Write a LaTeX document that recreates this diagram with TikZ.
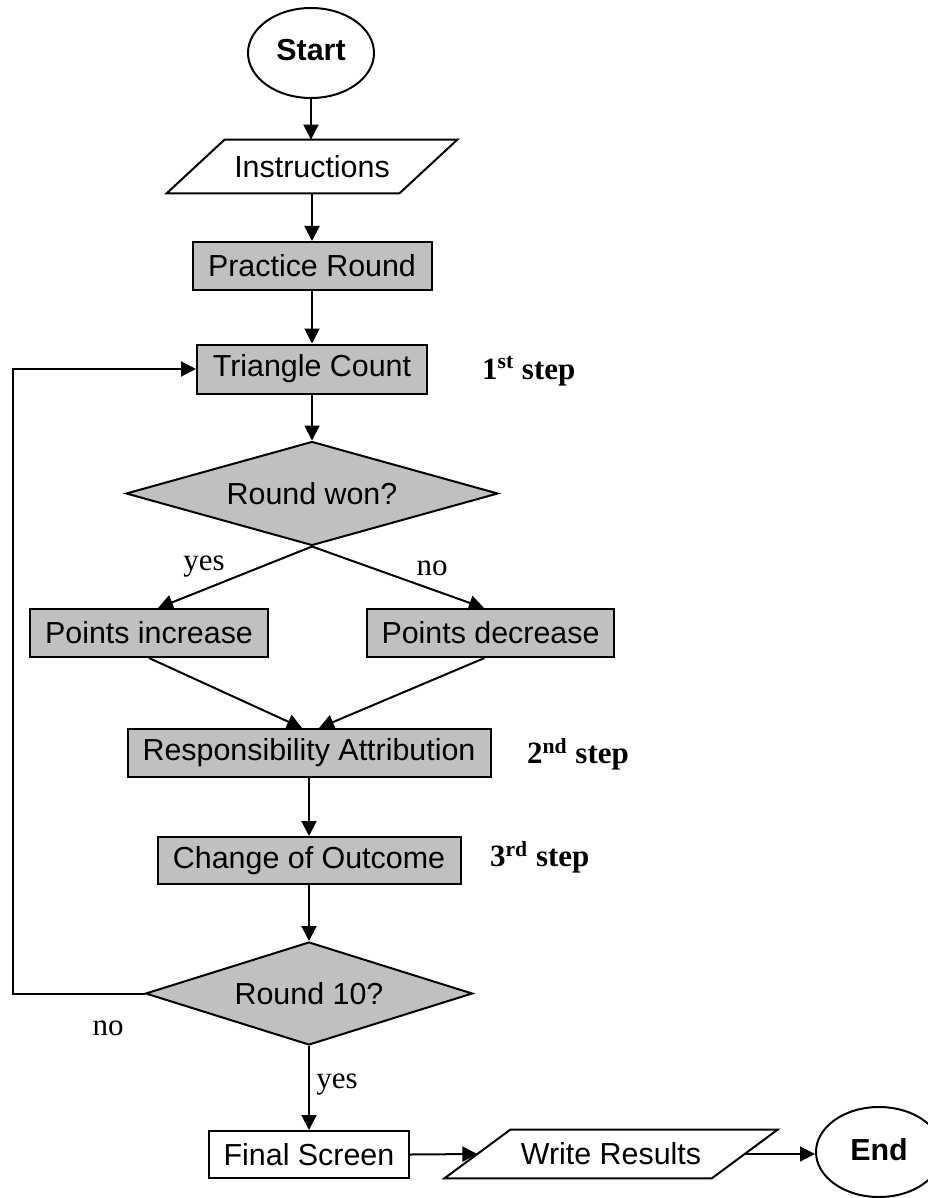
\documentclass[tikz,border=0pt]{standalone}
\usepackage{fontspec}
\setmainfont{Liberation Serif}
\setsansfont{Liberation Sans}
\usetikzlibrary{shapes.geometric,arrows.meta}
\definecolor{boxgray}{RGB}{192,192,192}
\tikzset{
  base/.style={draw=black, line width=1pt, font=\sffamily\fontsize{15.2}{18}\selectfont, inner sep=0pt},
  procbox/.style={base, rectangle, fill=boxgray},
  plainbox/.style={base, rectangle, fill=white},
  decision/.style={base, diamond, fill=boxgray},
  terminal/.style={base, ellipse, fill=white, font=\sffamily\bfseries\fontsize{15.2}{18}\selectfont, minimum width=63pt, minimum height=45pt},
  iotext/.style={rectangle, inner sep=0pt, font=\sffamily\fontsize{15.2}{18}\selectfont},
  ioshape/.style={line width=1pt, line join=miter},
  arrowline/.style={line width=1pt, -{Triangle[length=7.5pt,width=7.5pt]}},
  lbl/.style={font=\fontsize{15.5}{18}\selectfont},
  steplbl/.style={font=\bfseries\fontsize{15.5}{18}\selectfont, anchor=west}
}
\begin{document}
\begin{tikzpicture}[x=0.5pt,y=-0.5pt]
\useasboundingbox (0,0) rectangle (927,1198);

% nodes
\node[terminal] (start) at (311,53) {\raisebox{3pt}{Start}};
\node[iotext, minimum width=116pt, minimum height=26.5pt] (instr) at (312,166.5) {Instructions};
\draw[ioshape] ([xshift=14.5pt]instr.north west) -- ([xshift=14.5pt]instr.north east)
  -- ([xshift=-14.5pt]instr.south east) -- ([xshift=-14.5pt]instr.south west) -- cycle;
\node[procbox, minimum width=119.5pt, minimum height=24pt] (pr) at (312,266) {Practice Round};
\node[procbox, minimum width=115pt, minimum height=24.5pt] (tc) at (312,369) {Triangle Count};
\node[decision, minimum width=186pt, minimum height=52pt, aspect=3.58] (d1) at (312,493.5) {Round won?};
\node[procbox, minimum width=119pt, minimum height=24pt] (pi) at (149,633) {Points increase};
\node[procbox, minimum width=123.5pt, minimum height=24pt] (pd) at (490.5,633) {Points decrease};
\node[procbox, minimum width=181.5pt, minimum height=24pt] (resp) at (309,753) {Responsibility Attribution};
\node[procbox, minimum width=151.5pt, minimum height=23.5pt] (coo) at (309,860.5) {Change of Outcome};
\node[decision, minimum width=163.5pt, minimum height=51.5pt, aspect=3.17] (d2) at (309,993.5) {Round 10?};
\node[plainbox, minimum width=100pt, minimum height=23.5pt] (fs) at (309,1154.5) {Final Screen};
\node[iotext, minimum width=133.25pt, minimum height=24pt] (wr) at (611,1154) {Write Results};
\draw[ioshape] ([xshift=16.5pt]wr.north west) -- ([xshift=16.5pt]wr.north east)
  -- ([xshift=-16.5pt]wr.south east) -- ([xshift=-16.5pt]wr.south west) -- cycle;
\node[terminal] (end) at (879,1152) {\raisebox{3pt}{End}};

% step labels
\node[steplbl] (s1) at (475,371) {1\textsuperscript{st} step};
\node[steplbl] (s2) at (520,754) {2\textsuperscript{nd} step};
\node[steplbl] (s3) at (483,857) {3\textsuperscript{rd} step};

% branch labels
\node[lbl] (yes1) at (204,567) {yes};
\node[lbl] (no1) at (432,568) {no};
\node[lbl] (no2) at (108,1028) {no};
\node[lbl] (yes2) at (337,1085) {yes};

% connectors
\draw[arrowline] (start.south) -- (start.south |- instr.north);
\draw[arrowline] (instr.south) -- (pr.north);
\draw[arrowline] (pr.south) -- (tc.north);
\draw[arrowline] (tc.south) -- (d1.north);
\draw[arrowline] (d1.south) -- ([xshift=4.5pt]pi.north);
\draw[arrowline] (d1.south) -- ([xshift=-3.25pt]pd.north);
\draw[arrowline] (pi.south) -- ([xshift=-3.5pt]resp.north);
\draw[arrowline] ([xshift=-3pt]pd.south) -- ([xshift=5pt]resp.north);
\draw[arrowline] (resp.south) -- (coo.north);
\draw[arrowline] (coo.south) -- (d2.north);
\coordinate (loop) at (13,993.5);
\draw[arrowline] (d2.west) -- (loop) |- (tc.west);
\draw[arrowline] (d2.south) -- (fs.north);
\draw[arrowline] (fs.east) -- (wr.west);
\draw[arrowline] (wr.east) -- (end.west |- wr.east);
\end{tikzpicture}
\end{document}
